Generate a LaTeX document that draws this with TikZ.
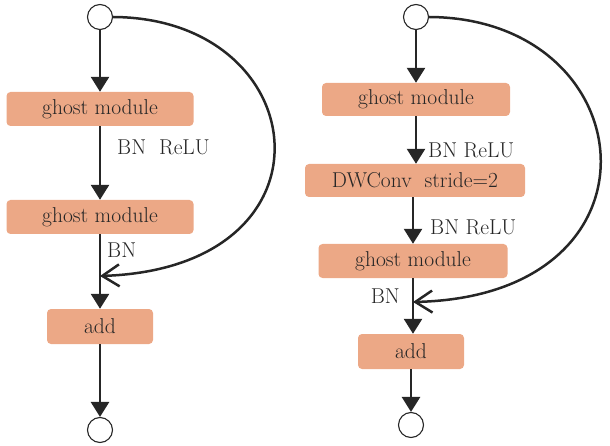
\documentclass[tikz,border=0pt]{standalone}
\usepackage{xcolor}
\usepackage{tikz}
\usetikzlibrary{arrows.meta}

\definecolor{boxfill}{HTML}{ECA886}
\definecolor{ink}{HTML}{262626}

\tikzset{
  blk/.style={fill=boxfill, rounded corners=4pt, inner sep=0pt, text=ink,
              font=\fontsize{21.5}{25}\selectfont},
  port/.style={circle, draw=ink, line width=1.1pt, fill=white, minimum size=25pt, inner sep=0pt},
  lbl/.style={text=ink, inner sep=0pt, font=\fontsize{21.5}{25}\selectfont},
  flow/.style={draw=ink, line width=2.6pt, -{Triangle[length=15pt,width=18pt]}},
  skip/.style={draw=ink, line width=2.5pt, -{Straight Barb[length=17pt,width=22pt]}}
}

\begin{document}
\begin{tikzpicture}[x=1pt, y=-1pt]
\useasboundingbox (0,0) rectangle (610,446);

% left block (stride 1)
\node[port] (inA) at (100,17) {};
\node[blk, minimum width=187pt, minimum height=34pt] (ghostA1) at (100,109) {ghost module};
\node[blk, minimum width=187pt, minimum height=34pt] (ghostA2) at (100,217) {ghost module};
\node[blk, minimum width=106pt, minimum height=35pt] (addA) at (100,326.5) {add};
\node[port] (outA) at (100,430) {};
\coordinate (joinA) at (100,276);
\node[lbl, anchor=west] (bnreluA) at (117,147) {BN\ \ ReLU};
\node[lbl, anchor=west] (bnA) at (107,250) {BN};

\draw[flow] (inA) -- (ghostA1);
\draw[flow] (ghostA1) -- (ghostA2);
\draw[flow] (ghostA2) -- (addA);
\draw[flow] (addA) -- (outA);
\draw[skip] (inA.east) .. controls (315,18) and (345,268) .. (joinA);

% right block (stride 2)
\node[port] (inB) at (416,17) {};
\node[blk, minimum width=188pt, minimum height=33pt] (ghostB1) at (416,99.5) {ghost module};
\node[blk, minimum width=220pt, minimum height=33pt] (dwB) at (415,180.5) {DWConv\ \ stride=2};
\node[blk, minimum width=189pt, minimum height=34pt] (ghostB2) at (413,261) {ghost module};
\node[blk, minimum width=106pt, minimum height=35pt] (addB) at (411,351.5) {add};
\node[port] (outB) at (411,425) {};
\coordinate (joinB) at (413,302);
\node[lbl, anchor=west] (bnreluB1) at (428,150) {BN ReLU};
\node[lbl, anchor=west] (bnreluB2) at (430,227) {BN ReLU};
\node[lbl, anchor=east] (bnB) at (400,296) {BN};

\draw[flow] (inB) -- (inB |- ghostB1.north);
\draw[flow] (ghostB1.south -| inB) -- (inB |- dwB.north);
\draw[flow] (dwB.south -| ghostB2) -- (ghostB2);
\draw[flow] (ghostB2.south -| joinB) -- (joinB |- addB.north);
\draw[flow] (addB) -- (outB);
\draw[skip] (inB.east) .. controls (645,18) and (675,296) .. (joinB);

\end{tikzpicture}
\end{document}
